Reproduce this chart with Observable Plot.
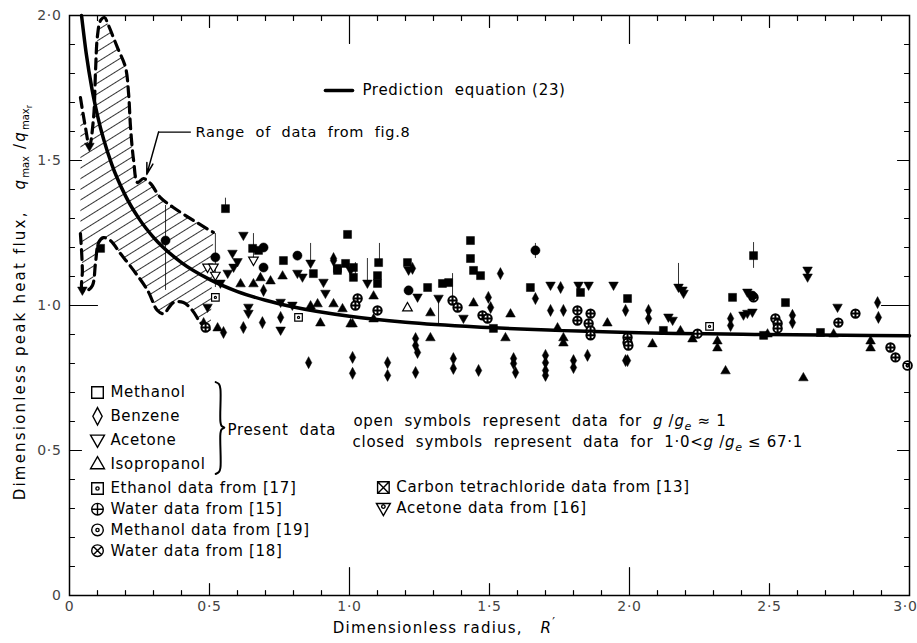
<!DOCTYPE html>
<html><head><meta charset="utf-8">
<script src="https://cdn.jsdelivr.net/npm/d3@7"></script>
<script src="https://cdn.jsdelivr.net/npm/@observablehq/plot@0.6"></script>
<style>
body{margin:0;background:#fff;}
#chart svg text{letter-spacing:0.7px;}
</style></head><body><div id="chart"></div>
<script>
// ---------- data (R', q/qmax) ----------
const methanolClosed = [[0.993,1.245],[1.014,1.097],[1.104,1.148],[1.1,1.103],[1.1,1.076],[1.207,1.148],[1.279,1.062],[1.332,1.076],[1.354,1.079],[1.432,1.224],[1.432,1.162],[1.443,1.121],[1.468,1.103],[1.514,0.921],[1.646,1.062],[1.825,1.045],[1.993,1.024],[2.121,0.914],[2.368,1.028],[2.443,1.172],[2.479,0.897],[2.557,1.01],[2.682,0.907],[0.557,1.334],[0.764,1.155],[0.871,1.11],[0.957,1.128],[0.986,1.145],[1.014,1.131],[0.654,1.197],[0.111,1.197],[0.957,1.121],[0.675,1.19]];
const benzeneClosed = [[0.943,1.155],[1.225,1.128],[1.539,1.11],[1.496,1.028],[1.504,0.993],[1.664,1.024],[1.718,0.983],[1.754,1.062],[1.764,0.983],[1.986,0.983],[1.993,0.81],[2.068,0.983],[2.068,0.955],[2.361,0.955],[2.361,0.931],[2.582,0.966],[2.582,0.941],[2.886,1.01],[2.889,0.959],[0.943,1.162],[0.693,1.052],[0.55,0.907],[0.621,0.924],[0.689,0.941],[0.754,0.959],[0.479,0.938],[0.854,0.803],[1.011,0.821],[1.011,0.766],[1.136,0.803],[1.136,0.759],[1.236,0.886],[1.236,0.862],[1.243,0.838],[1.236,0.769],[1.371,0.817],[1.371,0.783],[1.461,0.776],[1.586,0.817],[1.586,0.8],[1.593,0.769],[1.7,0.828],[1.7,0.803],[1.7,0.776],[1.7,0.759],[1.8,0.81],[1.8,0.786],[1.85,0.828],[1.986,0.81]];
const acetoneClosed = [[1.004,1.121],[1.064,1.076],[1.211,1.121],[1.243,1.028],[1.318,1.024],[1.407,0.955],[1.718,1.069],[1.818,1.069],[1.854,1.069],[1.943,1.069],[2.139,0.959],[2.154,0.948],[2.175,1.062],[2.189,1.052],[2.193,1.041],[2.407,0.966],[2.421,0.972],[2.439,0.976],[2.636,1.121],[2.636,1.097],[2.743,0.993],[2.421,1.045],[0.539,1.076],[0.582,1.179],[0.586,1.131],[0.621,1.241],[0.814,1.11],[0.832,1.097],[0.861,1.145],[0.907,1.079],[0.914,1.041],[0.754,1.01],[0.796,1.0],[0.639,0.993],[0.639,0.972],[0.754,0.914],[0.493,0.993],[0.071,1.548],[0.046,1.052],[0.565,1.11],[0.6,1.15]];
const isopropanolClosed = [[1.086,1.034],[0.943,1.007],[0.975,0.99],[1.004,0.938],[1.086,0.955],[1.289,0.976],[1.289,0.89],[1.443,1.01],[1.575,0.972],[1.557,0.89],[1.743,0.924],[1.764,0.89],[1.764,0.872],[1.921,0.941],[2.082,0.869],[2.182,0.914],[2.225,0.886],[2.314,0.879],[2.314,0.855],[2.343,0.776],[2.493,0.903],[2.621,0.752],[2.729,0.903],[2.861,0.879],[2.861,0.855],[0.611,1.076],[0.657,1.076],[0.682,1.097],[0.718,1.086],[0.761,1.103],[0.861,1.0],[0.886,1.007],[0.896,0.941],[1.011,0.938],[0.529,0.924]];
const acetoneOpen = [[0.493,1.131],[0.514,1.131],[0.521,1.103],[0.657,1.155]];
const isopropanolOpen = [[1.207,0.993]];
const ethanol17 = [[0.521,1.028],[0.818,0.959],[2.286,0.928]];
const water15 = [[1.029,1.024],[1.021,1.0],[1.1,0.983],[1.368,1.017],[1.386,0.993],[1.475,0.966],[1.493,0.955],[1.814,0.983],[1.814,0.948],[1.861,0.972],[1.854,0.938],[1.861,0.914],[1.861,0.897],[1.993,0.89],[1.993,0.872],[1.996,0.862],[2.243,0.903],[2.443,1.028],[2.521,0.955],[2.529,0.938],[2.529,0.921],[2.746,0.941],[2.807,0.972],[2.932,0.855],[2.95,0.821],[0.486,0.924]];
const methanol19 = [[0.343,1.224],[0.521,1.166],[0.693,1.2],[0.693,1.131],[0.814,1.172],[1.664,1.19],[1.211,1.052],[2.439,1.034]];
const methanol19Open = [[2.993,0.793]];
// error bars: [R', one end, other end]
const errorBars = [[0.343,1.345,1.052],[0.521,1.248,1.062],[0.557,1.334,1.37],[0.657,1.248,1.155],[0.861,1.214,1.145],[1.021,1.148,1.097],[1.107,1.214,1.148],[1.064,1.162,1.076],[1.368,1.11,1.017],[1.318,1.024,0.931],[1.664,1.214,1.162],[2.443,1.217,1.128],[2.175,1.145,1.062]];
// prediction equation (23)
const predR = [0.043,0.06,0.08,0.1,0.15,0.2,0.25,0.3,0.4,0.5,0.6,0.7,0.8,1.0,1.2,1.5,2.0,2.5,3.0];
const predQ = [2.0,1.867,1.748,1.655,1.489,1.378,1.297,1.235,1.148,1.09,1.048,1.018,0.995,0.963,0.942,0.924,0.907,0.9,0.896];
// range of data from fig. 8
const rangeUpper = [[0.039,1.717],[0.057,1.614],[0.071,1.548],[0.086,1.648],[0.093,1.81],[0.1,1.931],[0.111,1.983],[0.125,1.993],[0.139,1.966],[0.171,1.89],[0.2,1.821],[0.211,1.731],[0.218,1.614],[0.229,1.5],[0.243,1.424],[0.264,1.438],[0.289,1.421],[0.325,1.372],[0.371,1.338],[0.443,1.293],[0.514,1.252]];
const rangeLower = [[0.039,1.248],[0.043,1.19],[0.046,1.121],[0.046,1.052],[0.064,1.052],[0.082,1.069],[0.093,1.148],[0.104,1.217],[0.121,1.234],[0.146,1.224],[0.182,1.179],[0.229,1.121],[0.279,1.052],[0.314,0.983],[0.336,0.972],[0.371,1.01],[0.407,1.01],[0.439,0.983],[0.468,0.941],[0.504,0.914]];
// axis ticks
const xTickLabels = [0,0.5,1.0,1.5,2.0,2.5,3.0];
const yTickLabels = [0,0.5,1.0,1.5,2.0];
const presentLabels = ["Methanol","Benzene","Acetone","Isopropanol"];
const otherLabels = ["Ethanol data from [17]","Water data from [15]","Methanol data from [19]","Water data from [18]"];
const otherLabels2 = ["Carbon tetrachloride data from [13]","Acetone data from [16]"];

// ---------- symbols ----------
const TAU = 2*Math.PI;
const mk = f => ({draw(c, size){ f(c, Math.sqrt(size/Math.PI)); }});
const circ = (c,x,y,r) => { c.moveTo(x+r,y); c.arc(x,y,r,0,TAU); };
const symSquare = mk((c,r)=>{ c.rect(-r,-r,2*r,2*r); });
const symDiamond = mk((c,r)=>{ c.moveTo(0,-1.5*r); c.lineTo(0.8*r,0); c.lineTo(0,1.5*r); c.lineTo(-0.8*r,0); c.closePath(); });
const symTriDown = mk((c,r)=>{ c.moveTo(-1.2*r,-0.85*r); c.lineTo(1.2*r,-0.85*r); c.lineTo(0,1.25*r); c.closePath(); });
const symTriUp = mk((c,r)=>{ c.moveTo(-1.2*r,0.85*r); c.lineTo(1.2*r,0.85*r); c.lineTo(0,-1.25*r); c.closePath(); });
const symSqDot = mk((c,r)=>{ c.rect(-r,-r,2*r,2*r); circ(c,0,0,0.28*r); });
const symCircPlus = mk((c,r)=>{ circ(c,0,0,r); c.moveTo(-r,0); c.lineTo(r,0); c.moveTo(0,-r); c.lineTo(0,r); });
const symCircDot = mk((c,r)=>{ circ(c,0,0,r); circ(c,0,0,0.28*r); });
const symCircX = mk((c,r)=>{ circ(c,0,0,r); const a=r*0.707; c.moveTo(-a,-a); c.lineTo(a,a); c.moveTo(-a,a); c.lineTo(a,-a); });
const symSqX = mk((c,r)=>{ c.rect(-r,-r,2*r,2*r); c.moveTo(-r,-r); c.lineTo(r,r); c.moveTo(-r,r); c.lineTo(r,-r); });
const symTriDownDot = mk((c,r)=>{ c.moveTo(-1.2*r,-0.85*r); c.lineTo(1.2*r,-0.85*r); c.lineTo(0,1.25*r); c.closePath(); circ(c,0,-0.3*r,0.3*r); });

const fmt = d => d === 0 ? "0" : d.toFixed(1).replace(".", "\u00b7");
const range = (a,b,s) => d3.range(Math.round((b-a)/s)+1).map(i => +(a+i*s).toFixed(2));
const xMinor = range(0,3,0.1).filter(v => Math.abs(v*2-Math.round(v*2))>1e-6);
const yMinor = range(0,2,0.1).filter(v => Math.abs(v*2-Math.round(v*2))>1e-6);
const xHalf = [0.5,1.5,2.5], xInt = [1,2];
const yHalf = [0.5,1.5], yInt = [1];

const pred = predR.map((r,i)=>[r,predQ[i]]);
const hatchPoly = rangeUpper.concat(rangeLower.slice().reverse());

const FONT = "DejaVu Sans";
const tickV = (data, k, anchor, rot, len) => Plot.vector(data, {[k]: d=>d, frameAnchor: anchor, rotate: rot, length: len, anchor: "start", r: 0, stroke: "black", strokeWidth: 1.2});
const dots = (data, symbol, fill, sw=1.2, r=4) => Plot.dot(data, {x: d=>d[0], y: d=>d[1], symbol, r, fill, stroke: "black", strokeWidth: sw});

const legendText = {fontFamily: FONT, fontSize: 15, textAnchor: "start", fill: "black"};
// legend rows: label arrays + symbol list, vertical placement by row index
const legendBlock = (labels, syms, x0, y0, step, r) => labels.flatMap((label,i) => [
  Plot.dot([label], {x: x0, y: y0 - i*step, symbol: syms[i], r, fill: "white", stroke: "black", strokeWidth: 1.4}),
  Plot.text([label], {x: x0 + 0.046, y: y0 - i*step, ...legendText})
]);

const brace = [[0.522,0.736],[0.534,0.729],[0.539,0.712],[0.539,0.6],[0.543,0.585],[0.553,0.579],[0.543,0.573],[0.539,0.558],[0.539,0.44],[0.534,0.426],[0.522,0.419]];

const chart = Plot.plot({
  width: 917, height: 643,
  marginLeft: 69, marginRight: 8, marginTop: 15, marginBottom: 48,
  x: {domain: [0,3], axis: null},
  y: {domain: [0,2], axis: null},
  style: {fontFamily: FONT, background: "white", color: "black", overflow: "visible"},
  marks: [
    // hatched range of fig. 8
    Plot.line(hatchPoly, {x: d=>d[0], y: d=>d[1], curve: "linear-closed", fill: "url(#hatch)", stroke: "none"}),
    Plot.line(rangeUpper, {x: d=>d[0], y: d=>d[1], curve: "catmull-rom", stroke: "black", strokeWidth: 3.2, strokeDasharray: "10,6"}),
    Plot.line(rangeLower, {x: d=>d[0], y: d=>d[1], curve: "catmull-rom", stroke: "black", strokeWidth: 3.2, strokeDasharray: "10,6"}),
    // prediction curve
    Plot.line(pred, {x: d=>d[0], y: d=>d[1], curve: "monotone-x", stroke: "black", strokeWidth: 3.5}),
    // error bars
    Plot.ruleX(errorBars, {x: d=>d[0], y1: d=>d[1], y2: d=>d[2], stroke: "black", strokeWidth: 0.8}),
    // data
    dots(benzeneClosed, symDiamond, "black", 0.5),
    dots(isopropanolClosed, symTriUp, "black", 0.5),
    dots(acetoneClosed, symTriDown, "black", 0.5),
    dots(methanolClosed, symSquare, "black", 0.5),
    dots(acetoneOpen, symTriDown, "white", 1.2),
    dots(isopropanolOpen, symTriUp, "white", 1.2),
    dots(water15, symCircPlus, "white", 2, 4.2),
    dots(methanol19, symCircDot, "black", 0.5, 4.6),
    dots(methanol19Open, symCircDot, "white", 1.8, 4.4),
    dots(ethanol17, symSqDot, "white", 1.2, 3.8),
    // frame and ticks
    Plot.frame({stroke: "black", strokeWidth: 1.5}),
    tickV(xMinor, "x", "bottom", 0, 5), tickV(xHalf, "x", "bottom", 0, 12), tickV(xInt, "x", "bottom", 0, 28),
    tickV(xMinor, "x", "top", 180, 5), tickV(xHalf, "x", "top", 180, 12), tickV(xInt, "x", "top", 180, 28),
    tickV(yMinor, "y", "left", 90, 5), tickV(yHalf, "y", "left", 90, 12), tickV(yInt, "y", "left", 90, 28),
    tickV(yMinor, "y", "right", -90, 5), tickV(yHalf, "y", "right", -90, 12), tickV(yInt, "y", "right", -90, 28),
    Plot.axisX(xTickLabels.slice(0,-1), {anchor: "bottom", tickSize: 0, tickPadding: 6, tickFormat: fmt, fontSize: 14, fill: "#444", fontFamily: FONT, label: null}),
    Plot.axisX(xTickLabels.slice(-1), {anchor: "bottom", tickSize: 0, tickPadding: 6, tickFormat: fmt, fontSize: 14, fill: "#444", fontFamily: FONT, textAnchor: "end", dx: 8, label: null}),
    Plot.axisY(yTickLabels, {anchor: "left", tickSize: 0, tickPadding: 8, tickFormat: fmt, fontSize: 14, fill: "#444", fontFamily: FONT, label: null}),
    Plot.text(["Dimensionless radius,   R\u2032"], {frameAnchor: "bottom", dy: 37, dx: -45, textAnchor: "middle", fontSize: 15, fontFamily: FONT, fill: "black"}),
    Plot.text(["Dimensionless peak heat flux,   qmax/qmaxr"], {frameAnchor: "left", rotate: -90, dx: -49, dy: -4, textAnchor: "middle", fontSize: 15, fontFamily: FONT, fill: "black"}),
    // annotations
    Plot.line([[0.914,1.741],[1.011,1.741]], {x: d=>d[0], y: d=>d[1], stroke: "black", strokeWidth: 3.5}),
    Plot.text(["Prediction  equation (23)"], {x: 1.046, y: 1.741, ...legendText}),
    Plot.text(["Range  of  data  from  fig.8"], {x: 0.45, y: 1.597, ...legendText, fontSize: 14.5}),
    Plot.line([[0.432,1.598],[0.318,1.598]], {x: d=>d[0], y: d=>d[1], stroke: "black", strokeWidth: 1.2}),
    Plot.arrow([[0.318,1.598,0.276,1.452]], {x1: d=>d[0], y1: d=>d[1], x2: d=>d[2], y2: d=>d[3], stroke: "black", strokeWidth: 1.5, headLength: 12, headAngle: 30}),
    // legend
    ...legendBlock(presentLabels, [symSquare, symDiamond, symTriDown, symTriUp], 0.1, 0.70, 0.082, 5.8),
    Plot.line(brace, {x: d=>d[0], y: d=>d[1], curve: "catmull-rom", stroke: "black", strokeWidth: 2}),
    Plot.text(["Present  data"], {x: 0.564, y: 0.569, ...legendText}),
    Plot.text(["open  symbols  represent  data  for  g /ge \u2248 1"], {x: 1.014, y: 0.6, ...legendText}),
    Plot.text(["closed  symbols  represent  data  for  1\u00b70<g /ge \u2264 67\u00b71"], {x: 1.011, y: 0.528, ...legendText}),
    ...legendBlock(otherLabels, [symSqDot, symCircPlus, symCircDot, symCircX], 0.1, 0.369, 0.0715, 5.8),
    ...legendBlock(otherLabels2, [symSqX, symTriDownDot], 1.121, 0.372, 0.0715, 5.8)
  ]
});

// hatch pattern definition
const svgNS = "http://www.w3.org/2000/svg";
const defs = document.createElementNS(svgNS, "defs");
defs.innerHTML = '<pattern id="hatch" patternUnits="userSpaceOnUse" width="12" height="9" patternTransform="rotate(-32)"><line x1="-1" y1="4.5" x2="13" y2="4.5" stroke="black" stroke-width="0.8"/></pattern>';
chart.prepend(defs);

// rich text (italic symbols, subscripts)
const it = s => `<tspan font-style="italic">${s}</tspan>`;
chart.querySelectorAll("text").forEach(t => {
  const s = t.textContent;
  if (s.startsWith("Dimensionless peak")) {
    t.style.letterSpacing = "2.2px";
    t.innerHTML = `Dimensionless peak heat flux,\u00a0\u00a0\u00a0${it("q")}<tspan dy="4" font-size="10" style="letter-spacing:0">max</tspan><tspan dy="-4">\u00a0/</tspan>${it("q")}<tspan dy="4" font-size="10" style="letter-spacing:0">max</tspan><tspan dy="3" font-size="8">r</tspan>`;
  } else if (s.startsWith("Dimensionless radius")) {
    t.style.letterSpacing = "1.2px";
    t.innerHTML = `Dimensionless radius,\u00a0\u00a0\u00a0${it("R")}<tspan dy="-7" font-size="12">\u2032</tspan>`;
  } else if (s.includes("g /ge")) {
    const [a, b] = s.split("g /ge");
    t.innerHTML = `${a.replace(/  /g,"\u00a0\u00a0")}${it("g")}\u00a0/${it("g")}<tspan dy="4" font-size="11" font-style="italic">e</tspan><tspan dy="-4">${b.replace(/ /g,"\u00a0")}</tspan>`;
  }
});
document.getElementById("chart").append(chart);
</script></body></html>
